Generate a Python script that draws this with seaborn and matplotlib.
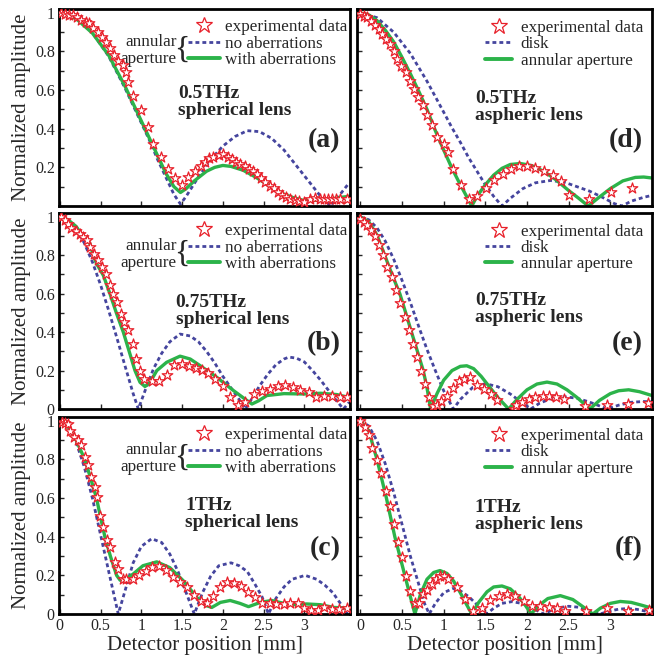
import matplotlib
matplotlib.use("Agg")
import matplotlib.pyplot as plt
import seaborn as sns
import pandas as pd
from matplotlib.lines import Line2D
from matplotlib.ticker import MultipleLocator

sns.set_style("ticks")
plt.rcParams["font.family"] = ["Liberation Serif", "DejaVu Serif"]
plt.rcParams["xtick.direction"] = "in"
plt.rcParams["ytick.direction"] = "in"

RED = "#e8202a"
BLUE = "#45459e"
GREEN = "#2cb34a"

# ---------------- (a) 0.5 THz spherical lens ----------------
a_exp_x = [0.012, 0.061, 0.111, 0.164, 0.213, 0.266, 0.32, 0.36, 0.41, 0.463, 0.512, 0.566, 0.615, 0.668,
           0.717, 0.77, 0.811, 0.84, 0.90, 0.99, 1.078, 1.148, 1.242, 1.332, 1.414, 1.496, 1.578, 1.66,
           1.734, 1.783, 1.836, 1.885, 1.947, 2.008, 2.061, 2.111, 2.164, 2.213, 2.266, 2.316, 2.369,
           2.418, 2.471, 2.52, 2.574, 2.623, 2.676, 2.725, 2.779, 2.828, 2.881, 2.93, 2.99, 3.07, 3.135,
           3.19, 3.24, 3.29, 3.34, 3.39, 3.44, 3.52]
a_exp_y = [1.0, 0.993, 0.99, 0.99, 0.976, 0.962, 0.954, 0.945, 0.924, 0.902, 0.876, 0.85, 0.818, 0.782,
           0.753, 0.73, 0.692, 0.641, 0.567, 0.495, 0.409, 0.323, 0.254, 0.189, 0.146, 0.108, 0.151, 0.18,
           0.206, 0.229, 0.246, 0.254, 0.263, 0.271, 0.254, 0.241, 0.229, 0.22, 0.208, 0.194, 0.18,
           0.168, 0.146, 0.125, 0.105, 0.091, 0.074, 0.057, 0.048, 0.034, 0.031, 0.026, 0.022, 0.034, 0.04,
           0.036, 0.034, 0.036, 0.034, 0.036, 0.034, 0.036]
a_no_x = [0, 0.2, 0.4, 0.6, 0.8, 1.0, 1.1, 1.2, 1.3, 1.4, 1.48, 1.55, 1.7, 1.85, 2.0, 2.15, 2.3, 2.45,
          2.6, 2.75, 2.9, 3.05, 3.2, 3.32, 3.42, 3.55]
a_no_y = [1.0, 0.974, 0.897, 0.775, 0.61, 0.43, 0.34, 0.24, 0.15, 0.06, 0.01, 0.05, 0.15, 0.24, 0.31,
          0.36, 0.39, 0.385, 0.35, 0.29, 0.21, 0.13, 0.05, 0.0, 0.05, 0.12]
a_ab_x = [0, 0.2, 0.4, 0.6, 0.8, 1.0, 1.1, 1.2, 1.3, 1.4, 1.48, 1.55, 1.65, 1.8, 1.9, 2.0, 2.1, 2.25,
          2.4, 2.55, 2.7, 2.85, 3.0, 3.15, 3.3, 3.45, 3.55]
a_ab_y = [1.0, 0.97, 0.895, 0.78, 0.62, 0.44, 0.35, 0.26, 0.17, 0.1, 0.07, 0.09, 0.13, 0.18, 0.2, 0.21,
          0.205, 0.185, 0.15, 0.11, 0.07, 0.045, 0.028, 0.03, 0.035, 0.045, 0.05]

# ---------------- (b) 0.75 THz spherical lens ----------------
b_exp_x = [0.012, 0.061, 0.102, 0.143, 0.197, 0.246, 0.287, 0.336, 0.369, 0.422, 0.471, 0.512, 0.566,
           0.615, 0.656, 0.705, 0.746, 0.787, 0.84, 0.893, 0.934, 0.984, 1.033, 1.127, 1.221, 1.311,
           1.402, 1.496, 1.59, 1.672, 1.742, 1.824, 1.906, 2.0, 2.09, 2.18, 2.275, 2.377, 2.48, 2.574,
           2.672, 2.766, 2.86, 2.95, 3.053, 3.148, 3.238, 3.34, 3.434, 3.525]
b_exp_y = [1.0, 0.983, 0.962, 0.944, 0.927, 0.913, 0.896, 0.878, 0.843, 0.809, 0.774, 0.739, 0.704,
           0.643, 0.6, 0.557, 0.496, 0.452, 0.409, 0.339, 0.261, 0.2, 0.157, 0.144, 0.144, 0.179,
           0.23, 0.235, 0.223, 0.214, 0.205, 0.188, 0.157, 0.122, 0.064, 0.023, 0.038, 0.078, 0.096, 0.104,
           0.122, 0.125, 0.117, 0.101, 0.087, 0.064, 0.07, 0.066, 0.061, 0.061]
b_no_x = [0, 0.1, 0.2, 0.3, 0.4, 0.5, 0.6, 0.7, 0.8, 0.9, 0.963, 1.05, 1.15, 1.25, 1.35, 1.475, 1.6,
          1.7, 1.8, 1.9, 2.0, 2.1, 2.2, 2.275, 2.35, 2.45, 2.55, 2.65, 2.75, 2.81, 2.9, 3.0, 3.1, 3.2,
          3.3, 3.4, 3.48, 3.55]
b_no_y = [1.0, 0.984, 0.938, 0.864, 0.765, 0.646, 0.512, 0.37, 0.224, 0.08, 0.0, 0.1, 0.21, 0.29, 0.35,
          0.39, 0.38, 0.35, 0.3, 0.24, 0.17, 0.11, 0.05, 0.0, 0.05, 0.12, 0.18, 0.23, 0.26, 0.27, 0.265,
          0.245, 0.2, 0.15, 0.095, 0.04, 0.0, 0.035]
b_ab_x = [0, 0.1, 0.2, 0.3, 0.369, 0.41, 0.45, 0.533, 0.615, 0.697, 0.779, 0.86, 0.922, 0.984, 1.045,
          1.107, 1.19, 1.31, 1.475, 1.6, 1.72, 1.926, 2.13, 2.3, 2.357, 2.44, 2.54, 2.75, 3.0, 3.2, 3.4, 3.55]
b_ab_y = [1.0, 0.985, 0.95, 0.89, 0.861, 0.8, 0.757, 0.696, 0.6, 0.496, 0.4, 0.287, 0.2, 0.139, 0.117,
          0.139, 0.2, 0.243, 0.275, 0.26, 0.226, 0.165, 0.096, 0.043, 0.026, 0.043, 0.07, 0.08, 0.078,
          0.082, 0.075, 0.06]

# ---------------- (c) 1 THz spherical lens ----------------
c_exp_x = [0.03, 0.061, 0.102, 0.131, 0.172, 0.217, 0.266, 0.307, 0.348, 0.377, 0.43, 0.459, 0.492,
           0.533, 0.582, 0.615, 0.676, 0.717, 0.77, 0.811, 0.893, 0.975, 1.057, 1.127, 1.221, 1.303,
           1.385, 1.475, 1.566, 1.648, 1.73, 1.803, 1.885, 1.967, 2.049, 2.131, 2.221, 2.303, 2.398,
           2.48, 2.574, 2.656, 2.746, 2.828, 2.918, 3.0, 3.082, 3.164, 3.246, 3.34, 3.422, 3.525]
c_exp_y = [0.995, 0.991, 0.986, 0.948, 0.914, 0.9, 0.874, 0.814, 0.771, 0.707, 0.655, 0.607, 0.505,
           0.448, 0.383, 0.345, 0.267, 0.233, 0.181, 0.181, 0.181, 0.203, 0.224, 0.241, 0.25, 0.228,
           0.19, 0.164, 0.138, 0.1, 0.069, 0.057, 0.095, 0.138, 0.164, 0.159, 0.147, 0.112, 0.086,
           0.055, 0.055, 0.052, 0.052, 0.057, 0.057, 0.029, 0.021, 0.021, 0.034, 0.026, 0.026, 0.029]
c_no_x = [0, 0.1, 0.2, 0.3, 0.4, 0.5, 0.6, 0.717, 0.8, 0.9, 1.0, 1.127, 1.25, 1.35, 1.45, 1.55, 1.65,
          1.75, 1.85, 1.95, 2.1, 2.2, 2.3, 2.4, 2.48, 2.56, 2.65, 2.75, 2.85, 3.01, 3.15, 3.25, 3.35,
          3.45, 3.52, 3.55]
c_no_y = [1.0, 0.972, 0.89, 0.762, 0.6, 0.41, 0.22, 0.0, 0.12, 0.265, 0.35, 0.39, 0.37, 0.31, 0.22,
          0.11, 0.0, 0.11, 0.195, 0.25, 0.265, 0.25, 0.22, 0.15, 0.09, 0.0, 0.08, 0.14, 0.18, 0.2, 0.18,
          0.15, 0.11, 0.05, 0.0, 0.02]
c_ab_x = [0, 0.1, 0.2, 0.307, 0.38, 0.45, 0.5, 0.553, 0.62, 0.697, 0.74, 0.78, 0.9, 1.02, 1.19, 1.35,
          1.52, 1.68, 1.8, 1.865, 1.97, 2.09, 2.21, 2.315, 2.46, 2.6, 2.75, 2.87, 3.03, 3.2, 3.36, 3.52]
c_ab_y = [1.0, 0.97, 0.9, 0.8, 0.7, 0.6, 0.5, 0.4, 0.3, 0.2, 0.175, 0.17, 0.207, 0.25, 0.27, 0.24,
          0.17, 0.086, 0.043, 0.034, 0.06, 0.07, 0.055, 0.038, 0.06, 0.07, 0.055, 0.048, 0.052, 0.048,
          0.034, 0.031]

# ---------------- (d) 0.5 THz aspheric lens ----------------
d_exp_x = [0.0, 0.04, 0.08, 0.133, 0.181, 0.225, 0.265, 0.313, 0.353, 0.402, 0.442, 0.494, 0.546,
           0.594, 0.643, 0.695, 0.747, 0.803, 0.855, 0.916, 1.004, 1.056, 1.108, 1.205, 1.309, 1.398,
           1.506, 1.606, 1.707, 1.807, 1.9, 2.0, 2.1, 2.2, 2.31, 2.41, 2.51, 2.743, 3.012, 3.265]
d_exp_y = [0.993, 0.985, 0.976, 0.959, 0.938, 0.916, 0.89, 0.864, 0.838, 0.804, 0.761, 0.727, 0.692,
           0.649, 0.607, 0.564, 0.521, 0.469, 0.418, 0.357, 0.323, 0.28, 0.189, 0.108, 0.034, 0.052,
           0.091, 0.134, 0.168, 0.194, 0.208, 0.208, 0.198, 0.18, 0.16, 0.129, 0.057, 0.034, 0.07, 0.091]
d_disk_x = [0, 0.2, 0.4, 0.6, 0.8, 1.0, 1.1, 1.2, 1.3, 1.4, 1.5, 1.6, 1.7, 1.8, 1.95, 2.1, 2.28, 2.45,
            2.6, 2.75, 2.9, 3.05, 3.14, 3.25, 3.4, 3.5]
d_disk_y = [1.0, 0.975, 0.90, 0.79, 0.646, 0.486, 0.405, 0.33, 0.25, 0.18, 0.11, 0.05, 0.0, 0.04, 0.09,
            0.12, 0.132, 0.123, 0.10, 0.077, 0.046, 0.012, 0.0, 0.025, 0.045, 0.055]
d_ann_x = [0, 0.1, 0.2, 0.3, 0.4, 0.5, 0.6, 0.7, 0.8, 0.9, 1.0, 1.1, 1.2, 1.3, 1.337, 1.4, 1.5, 1.6,
           1.7, 1.8, 1.92, 2.05, 2.2, 2.35, 2.5, 2.62, 2.735, 2.85, 3.0, 3.15, 3.3, 3.4, 3.5]
d_ann_y = [1.0, 0.99, 0.96, 0.91, 0.85, 0.77, 0.685, 0.595, 0.5, 0.39, 0.29, 0.195, 0.11, 0.03, 0.0,
           0.05, 0.11, 0.16, 0.195, 0.215, 0.22, 0.21, 0.18, 0.135, 0.08, 0.04, 0.0, 0.04, 0.09, 0.13,
           0.148, 0.15, 0.145]

# ---------------- (e) 0.75 THz aspheric lens ----------------
e_exp_x = [0.0, 0.04, 0.08, 0.133, 0.177, 0.225, 0.277, 0.325, 0.378, 0.43, 0.482, 0.534, 0.586, 0.634,
           0.683, 0.723, 0.771, 0.827, 0.867, 0.92, 0.972, 1.04, 1.116, 1.18, 1.241, 1.32, 1.402, 1.482,
           1.566, 1.646, 1.84, 1.867, 1.94, 2.02, 2.1, 2.19, 2.27, 2.35, 2.45, 2.7, 2.96, 3.21, 3.45]
e_exp_y = [0.99, 0.975, 0.96, 0.93, 0.9, 0.855, 0.8, 0.74, 0.685, 0.62, 0.55, 0.48, 0.41, 0.34, 0.27,
           0.2, 0.13, 0.06, 0.015, 0.02, 0.04, 0.07, 0.11, 0.145, 0.155, 0.165, 0.125, 0.105, 0.08, 0.045,
           0.0, 0.02, 0.035, 0.05, 0.062, 0.07, 0.068, 0.065, 0.05, 0.015, 0.02, 0.025, 0.03]
e_disk_x = [0, 0.1, 0.2, 0.3, 0.4, 0.5, 0.6, 0.7, 0.8, 0.9, 1.0, 1.116, 1.2, 1.35, 1.5, 1.65, 1.8,
            1.95, 2.045, 2.15, 2.3, 2.45, 2.6, 2.75, 2.9, 2.96, 3.1, 3.25, 3.4, 3.5]
e_disk_y = [1.0, 0.985, 0.943, 0.873, 0.78, 0.67, 0.555, 0.43, 0.31, 0.2, 0.095, 0.0, 0.05, 0.113,
            0.132, 0.116, 0.078, 0.03, 0.0, 0.03, 0.056, 0.064, 0.056, 0.036, 0.011, 0.0, 0.02, 0.035,
            0.039, 0.037]
e_ann_x = [0, 0.1, 0.2, 0.293, 0.38, 0.474, 0.545, 0.614, 0.685, 0.755, 0.8, 0.843, 0.92, 1.0, 1.1,
           1.2, 1.277, 1.36, 1.45, 1.55, 1.65, 1.78, 1.88, 2.0, 2.12, 2.24, 2.36, 2.48, 2.6, 2.755, 2.87,
           3.0, 3.1, 3.22, 3.35, 3.5]
e_ann_y = [1.0, 0.975, 0.905, 0.8, 0.7, 0.6, 0.5, 0.4, 0.3, 0.2, 0.11, 0.0, 0.08, 0.15, 0.2, 0.222,
           0.225, 0.21, 0.17, 0.115, 0.06, 0.0, 0.05, 0.1, 0.13, 0.14, 0.13, 0.1, 0.06, 0.0, 0.045, 0.08,
           0.095, 0.1, 0.09, 0.07]

# ---------------- (f) 1 THz aspheric lens ----------------
f_exp_x = [0.0, 0.052, 0.104, 0.145, 0.201, 0.253, 0.305, 0.353, 0.402, 0.454, 0.506, 0.554, 0.602,
           0.655, 0.707, 0.755, 0.803, 0.855, 0.908, 0.956, 1.004, 1.056, 1.157, 1.257, 1.349, 1.458,
           1.558, 1.659, 1.759, 1.859, 1.96, 2.06, 2.16, 2.26, 2.36, 2.46, 2.71, 2.964, 3.213, 3.466]
f_exp_y = [0.997, 0.969, 0.928, 0.862, 0.797, 0.728, 0.638, 0.56, 0.466, 0.374, 0.293, 0.198, 0.121,
           0.057, 0.057, 0.103, 0.124, 0.155, 0.181, 0.195, 0.195, 0.181, 0.138, 0.078, 0.014, 0.031,
           0.072, 0.095, 0.103, 0.095, 0.066, 0.043, 0.043, 0.034, 0.029, 0.017, 0.017, 0.031, 0.017, 0.021]
f_disk_x = [0, 0.1, 0.2, 0.3, 0.4, 0.5, 0.6, 0.7, 0.77, 0.827, 0.9, 1.0, 1.11, 1.2, 1.3, 1.42, 1.516,
            1.6, 1.7, 1.818, 1.95, 2.08, 2.196, 2.3, 2.4, 2.5, 2.62, 2.75, 2.876, 3.0, 3.1, 3.2, 3.32,
            3.5]
f_disk_y = [1.0, 0.974, 0.897, 0.777, 0.63, 0.465, 0.3, 0.155, 0.055, 0.0, 0.055, 0.11, 0.132, 0.12,
            0.09, 0.04, 0.0, 0.03, 0.055, 0.064, 0.054, 0.028, 0.0, 0.02, 0.034, 0.04, 0.035, 0.018, 0.0,
            0.016, 0.025, 0.028, 0.024, 0.008]
f_ann_x = [0, 0.1, 0.2, 0.313, 0.414, 0.534, 0.6, 0.655, 0.72, 0.8, 0.88, 0.956, 1.04, 1.12, 1.2,
           1.28, 1.337, 1.42, 1.52, 1.6, 1.7, 1.8, 1.9, 1.98, 2.05, 2.13, 2.25, 2.4, 2.55, 2.68, 2.79,
           2.88, 3.0, 3.12, 3.25, 3.38, 3.5]
f_ann_y = [1.0, 0.95, 0.8, 0.6, 0.4, 0.2, 0.09, 0.0, 0.1, 0.18, 0.215, 0.225, 0.21, 0.17, 0.11, 0.045,
           0.0, 0.06, 0.115, 0.14, 0.145, 0.13, 0.09, 0.045, 0.0, 0.04, 0.08, 0.095, 0.075, 0.035, 0.0,
           0.03, 0.055, 0.065, 0.06, 0.045, 0.03]

freq_labels = ["0.5THz", "0.75THz", "1THz"]
letters_left = ["(a)", "(b)", "(c)"]
letters_right = ["(d)", "(e)", "(f)"]
left_legend = ["experimental data", "no aberrations", "with aberrations"]
right_legend = ["experimental data", "disk", "annular aperture"]
xlabel = "Detector position [mm]"
ylabel = "Normalized amplitude"

left_sets = [(a_exp_x, a_exp_y, a_no_x, a_no_y, a_ab_x, a_ab_y),
             (b_exp_x, b_exp_y, b_no_x, b_no_y, b_ab_x, b_ab_y),
             (c_exp_x, c_exp_y, c_no_x, c_no_y, c_ab_x, c_ab_y)]
right_sets = [(d_exp_x, d_exp_y, d_disk_x, d_disk_y, d_ann_x, d_ann_y),
              (e_exp_x, e_exp_y, e_disk_x, e_disk_y, e_ann_x, e_ann_y),
              (f_exp_x, f_exp_y, f_disk_x, f_disk_y, f_ann_x, f_ann_y)]

W, H = 661, 659
fig = plt.figure(figsize=(W / 100, H / 100), dpi=100)

col_px = [(59, 350), (357, 652)]
row_px = [(9, 206), (213, 409), (417, 614)]
xlims = [(-0.01, 3.56), (-0.04, 3.50)]
text_pos = [[(1.45, 0.625), (1.42, 0.598), (1.54, 0.607)],
            [(1.375, 0.602), (1.375, 0.608), (1.375, 0.598)]]

DASH = (0, (1.4, 1.1))
LEG_FS = 12.3


def draw_panel(ax, data, col, row):
    ex, ey, bx, by, gx, gy = data
    sns.lineplot(x=bx, y=by, ax=ax, color=BLUE, lw=2.0, estimator=None, sort=False)
    ax.lines[-1].set_linestyle(DASH)
    sns.lineplot(x=gx, y=gy, ax=ax, color=GREEN, lw=2.4, estimator=None, sort=False)
    sns.scatterplot(x=ex, y=ey, ax=ax, marker="*", s=64, color="white", edgecolor=RED,
                    linewidth=0.9, zorder=4)
    ax.set_xlim(*xlims[col])
    ax.set_ylim(0, 1.02)
    ax.xaxis.set_major_locator(MultipleLocator(0.5))
    ax.yaxis.set_major_locator(MultipleLocator(0.2))
    ax.yaxis.set_minor_locator(MultipleLocator(0.1))
    ax.tick_params(which="both", direction="in", length=3.5, width=1.0, labelsize=11.5, pad=3,
                   top=False, right=False)
    for sp in ax.spines.values():
        sp.set_linewidth(2.0)
        sp.set_color("black")
    ax.set_xticks([0, 0.5, 1, 1.5, 2, 2.5, 3])
    if row == 2:
        ax.set_xticklabels(["0", "0.5", "1", "1.5", "2", "2.5", "3"])
        ax.set_xlabel(xlabel, fontsize=15, labelpad=1)
    else:
        ax.set_xticklabels([])
        ax.set_xlabel("")
    if col == 0:
        if row == 0:
            ax.set_yticks([0.2, 0.4, 0.6, 0.8, 1.0])
            ax.set_yticklabels(["0.2", "0.4", "0.6", "0.8", "1"])
        else:
            ax.set_yticks([0, 0.2, 0.4, 0.6, 0.8, 1.0])
            ax.set_yticklabels(["0", "0.2", "0.4", "0.6", "0.8", "1"])
        ax.set_ylabel(ylabel, fontsize=15, labelpad=3)
    else:
        ax.set_yticks([0, 0.2, 0.4, 0.6, 0.8, 1.0])
        ax.set_yticklabels([])
        ax.set_ylabel("")

    lens = "spherical lens" if col == 0 else "aspheric lens"
    tx, ty = text_pos[col][row]
    ax.text(tx, ty, freq_labels[row] + "\n" + lens, fontsize=14, fontweight="bold",
            ha="left", va="top", linespacing=1.0, zorder=5)
    letter = (letters_left if col == 0 else letters_right)[row]
    ax.text(0.968, 0.30, letter, transform=ax.transAxes, fontsize=20, fontweight="bold",
            ha="right", va="baseline", zorder=5)

    handles = [Line2D([], [], marker="*", ls="none", mfc="white", mec=RED, ms=12, mew=0.9),
               Line2D([], [], color=BLUE, lw=2.0, ls=DASH),
               Line2D([], [], color=GREEN, lw=2.8)]
    labels = left_legend if col == 0 else right_legend
    if col == 0:
        ax.legend(handles, labels, loc="upper right", bbox_to_anchor=(0.992, 0.948),
                  frameon=False, fontsize=LEG_FS, handlelength=1.9, handletextpad=0.3,
                  labelspacing=0.02, borderpad=0.0, borderaxespad=0.0)
        ax.text(0.405, 0.832, "annular", transform=ax.transAxes, fontsize=LEG_FS,
                ha="right", va="center")
        ax.text(0.405, 0.745, "aperture", transform=ax.transAxes, fontsize=LEG_FS,
                ha="right", va="center")
        ax.text(0.423, 0.79, "{", transform=ax.transAxes, fontsize=23,
                ha="center", va="center")
    else:
        ax.legend(handles, labels, loc="upper right", bbox_to_anchor=(0.97, 0.945),
                  frameon=False, fontsize=LEG_FS, handlelength=1.6, handletextpad=0.5,
                  labelspacing=0.02, borderpad=0.0, borderaxespad=0.0)


for col, sets in enumerate([left_sets, right_sets]):
    for row, data in enumerate(sets):
        x0, x1 = col_px[col]
        y0, y1 = row_px[row]
        ax = fig.add_axes([x0 / W, 1 - y1 / H, (x1 - x0) / W, (y1 - y0) / H])
        draw_panel(ax, data, col, row)

fig.savefig("out.png", dpi=100)
